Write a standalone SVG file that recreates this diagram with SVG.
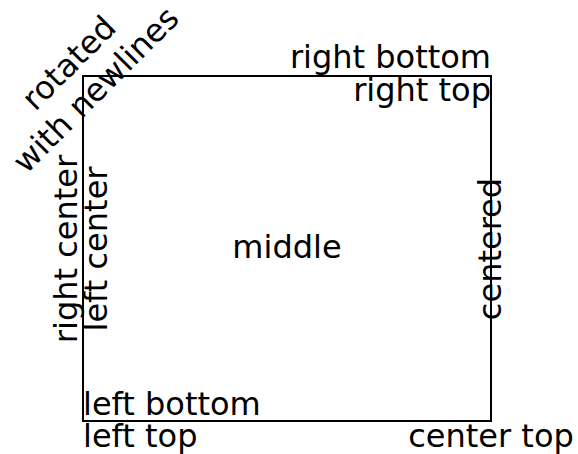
<svg xmlns="http://www.w3.org/2000/svg" width="578" height="454" viewBox="0 0 578 454">
<style>
text{font-family:"DejaVu Sans","Liberation Sans",sans-serif;font-size:32px;fill:#000}
.box{fill:none;stroke:#000;stroke-width:2}
</style>
<rect width="578" height="454" fill="#fff"/>
<g id="frame"><rect class="box" x="83" y="76" width="408" height="345"/></g>
<g id="t-left-top"><text x="83" y="447">left top</text></g>
<g id="t-left-bottom"><text x="83" y="415">left bottom</text></g>
<g id="t-right-bottom"><text x="491" y="68" text-anchor="end">right bottom</text></g>
<g id="t-right-top"><text x="491" y="101" text-anchor="end">right top</text></g>
<g id="t-center-top"><text x="491" y="447" text-anchor="middle">center top</text></g>
<g id="t-middle"><text x="287" y="258" text-anchor="middle">middle</text></g>
<g id="t-centered"><text transform="translate(491,249) rotate(-90)" x="0" y="10" text-anchor="middle">centered</text></g>
<g id="t-left-center"><text transform="translate(83,249) rotate(-90)" x="0" y="24" text-anchor="middle">left center</text></g>
<g id="t-right-center"><text transform="translate(83,249) rotate(-90)" x="0" y="-6" text-anchor="middle">right center</text></g>
<g id="t-rotated"><text transform="translate(83,77) rotate(-45)" text-anchor="middle"><tspan x="0" y="-9">rotated</tspan><tspan x="0" y="29">with newlines</tspan></text></g>
</svg>
